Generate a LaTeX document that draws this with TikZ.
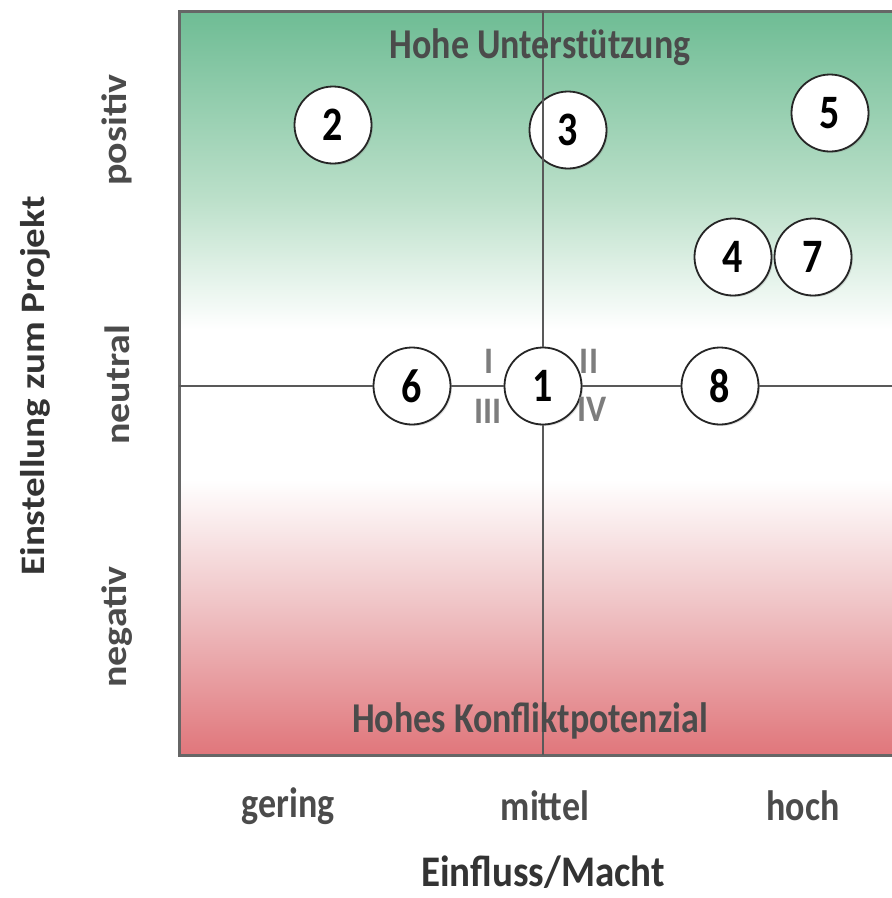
\documentclass[tikz,border=0pt]{standalone}
\usepackage{fontspec}
\setmainfont{Carlito}
\usepackage{tikz}
\usetikzlibrary{shadows}

\definecolor{grntop}{RGB}{110,188,148}
\definecolor{grnmid}{RGB}{188,224,202}
\definecolor{redmid}{RGB}{240,198,200}
\definecolor{redbot}{RGB}{224,118,123}
\definecolor{txtgray}{RGB}{75,75,75}
\definecolor{romgray}{RGB}{125,125,125}
\pgfdeclareverticalshading{stakeshade}{100bp}{color(0bp)=(redbot); color(25bp)=(redbot); color(35.4bp)=(redmid); color(43.5bp)=(white); color(53.6bp)=(white); color(62.3bp)=(grnmid); color(75bp)=(grntop); color(100bp)=(grntop)}

\begin{document}
\begin{tikzpicture}[x=1pt, y=-1pt,
    stake/.style={circle, draw=black!85, line width=1.8pt, fill=white, minimum size=77pt, inner sep=0pt,
      drop shadow={opacity=0.25, shadow xshift=1.5pt, shadow yshift=-1.5pt}},
    digit/.style={font=\fontsize{40}{46}\selectfont\bfseries, yscale=1.2},
    roman/.style={text=romgray, font=\fontsize{34}{40}\selectfont\bfseries, yscale=1.1},
    lbl/.style={text=txtgray, font=\fontsize{36}{42}\selectfont\bfseries, yscale=1.18},
    vlbl/.style={text=txtgray, font=\fontsize{40}{46}\selectfont\bfseries, rotate=90, yscale=0.88},
    axis/.style={draw=black!65, line width=1.2pt}]
  \clip (0,0) rectangle (892,898);
  % background field
  \shade[shading=stakeshade, draw=black!60, line width=3pt,
    drop shadow={opacity=0.35, shadow xshift=2pt, shadow yshift=-2pt}] (179,11) rectangle (905,755);
  % stakeholders
  \node[stake] (c2) at (333,125) {};
  \node[stake] (c3) at (568,130) {};
  \node[stake] (c5) at (830,113) {};
  \node[stake] (c4) at (733,257) {};
  \node[stake] (c7) at (813,257) {};
  \node[stake] (c6) at (412,386) {};
  \node[stake] (c1) at (543,386) {};
  \node[stake] (c8) at (720,386) {};
  \foreach \n in {1,...,8}
    \node[digit] (d\n) at (c\n) {\n};
  % axes
  \coordinate (top) at (543,11);
  \coordinate (bot) at (543,755);
  \coordinate (lft) at (179,386);
  \coordinate (rgt) at (905,386);
  \path[axis] (top) -- (c1) -- (bot);
  \path[axis] (lft) -- (c6) -- (c1) -- (c8) -- (rgt);
  % quadrants
  \node[roman] (q1) at (489,361) {I};
  \node[roman] (q2) at (589,361) {II};
  \node[roman] (q3) at (488,411) {III};
  \node[roman] (q4) at (592,409) {IV};
  % texts
  \node[lbl] (sup) at (540,47) {Hohe Unterstützung};
  \node[lbl] (con) at (530,721) {Hohes Konfliktpotenzial};
  \node[lbl] (gering) at (288,806) {gering};
  \node[lbl] (mittel) at (545,806) {mittel};
  \node[lbl] (hoch) at (803,806) {hoch};
  \node[lbl, text=black!80, font=\fontsize{39}{45}\selectfont\bfseries, yscale=0.95, inner sep=0pt] (xlab) at (543,872) {Einfluss/Macht};
  \node[vlbl] (pos) at (117,130) {positiv};
  \node[vlbl] (neu) at (117,385) {neutral};
  \node[vlbl] (neg) at (117,627) {negativ};
  \node[vlbl, text=black!80, font=\fontsize{39}{45}\selectfont\bfseries] (ylab) at (35,386) {Einstellung zum Projekt};
\end{tikzpicture}
\end{document}
